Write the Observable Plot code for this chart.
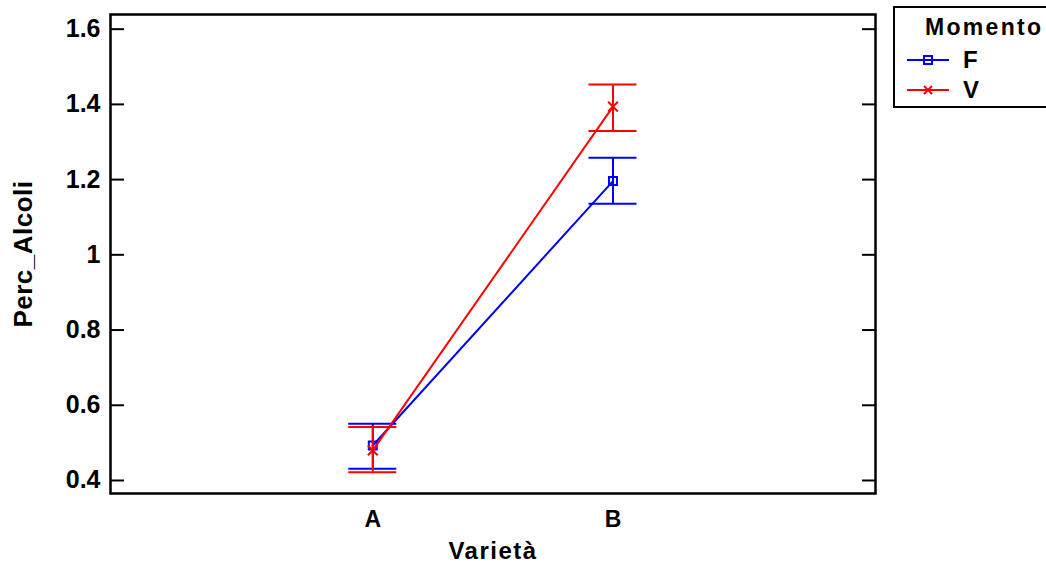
<!DOCTYPE html>
<html>
<head>
<meta charset="utf-8">
<script src="https://cdn.jsdelivr.net/npm/d3@7"></script>
<script src="https://cdn.jsdelivr.net/npm/@observablehq/plot@0.6"></script>
<style>
  html, body { margin: 0; padding: 0; background: #fff; }
  #wrap { position: relative; width: 1046px; height: 566px; overflow: hidden; font-family: "Liberation Sans", Arial, sans-serif; }
  #legend { position: absolute; left: 893px; top: 6px; width: 190px; height: 98px; border: 2px solid #000; background: #fff; }
  #legend .title { position: absolute; left: 30px; top: 6px; font-weight: bold; font-size: 23px; letter-spacing: 2.3px; }
  #legend .row { position: absolute; left: 12px; height: 24px; display: flex; align-items: center; }
  #legend .row span { font-weight: bold; font-size: 24px; margin-left: 14px; }
</style>
</head>
<body>
<div id="wrap"></div>
<script>
// ---- data ----
const varieta = ["A", "B"];
const momento = ["F", "V"];
const colors = ["#0000ff", "#ff0000"];
const meanF = [0.493, 1.196];
const lowF  = [0.431, 1.136];
const highF = [0.551, 1.258];
const meanV = [0.480, 1.394];
const lowV  = [0.422, 1.329];
const highV = [0.542, 1.453];
const yTicks = [0.4, 0.6, 0.8, 1.0, 1.2, 1.4, 1.6];
const yTickLabels = ["0.4", "0.6", "0.8", "1", "1.2", "1.4", "1.6"];
const xTitle = "Varietà";
const yTitle = "Perc_Alcoli";
const legendTitle = "Momento";

const rows = [];
varieta.forEach((v, i) => {
  rows.push({varieta: v, pos: i + 1, momento: "F", mean: meanF[i], low: lowF[i], high: highF[i]});
});
varieta.forEach((v, i) => {
  rows.push({varieta: v, pos: i + 1, momento: "V", mean: meanV[i], low: lowV[i], high: highV[i]});
});
const capHalf = 0.1;
const font = "Liberation Sans, Arial, sans-serif";

const chart = Plot.plot({
  width: 1046,
  height: 566,
  marginLeft: 110,
  marginRight: 171,
  marginTop: 14,
  marginBottom: 73,
  style: {fontFamily: font, fontWeight: "bold", color: "#000", background: "#fff"},
  x: {domain: [-0.092, 3.093]},
  y: {domain: [0.3654, 1.639]},
  color: {domain: momento, range: colors},
  marks: [
    Plot.axisY(yTicks, {anchor: "left", tickSize: 0, tickPadding: 10, fontSize: 25, tickFormat: d => yTickLabels[yTicks.indexOf(d)], label: null}),
    Plot.axisY(yTicks, {anchor: "left", tickSize: -14, tickPadding: 0, tickFormat: () => "", strokeWidth: 2, label: null}),
    Plot.axisY(yTicks, {anchor: "right", tickSize: -14, tickPadding: 0, tickFormat: () => "", strokeWidth: 2, label: null}),
    Plot.axisX([1, 2], {anchor: "bottom", tickSize: 0, tickPadding: 17, fontSize: 23, tickFormat: d => varieta[d - 1], label: null}),
    Plot.text([yTitle], {frameAnchor: "left", dx: -87, rotate: -90, fontSize: 26, fontWeight: "bold", textAnchor: "middle", lineAnchor: "middle"}),
    Plot.text([xTitle], {frameAnchor: "bottom", dx: 0, dy: 58, fontSize: 24, fontWeight: "bold", textAnchor: "middle", lineAnchor: "middle"}),
    Plot.frame({stroke: "#000", strokeWidth: 2.5}),
    ...momento.map(m => {
      const d = rows.filter(r => r.momento === m);
      return [
        Plot.line(d, {x: "pos", y: "mean", stroke: "momento", strokeWidth: 2}),
        Plot.ruleX(d, {x: "pos", y1: "low", y2: "high", stroke: "momento", strokeWidth: 2}),
        Plot.ruleY(d, {y: "high", x1: r => r.pos - capHalf, x2: r => r.pos + capHalf, stroke: "momento", strokeWidth: 2}),
        Plot.ruleY(d, {y: "low", x1: r => r.pos - capHalf, x2: r => r.pos + capHalf, stroke: "momento", strokeWidth: 2}),
        Plot.dot(d, {x: "pos", y: "mean", stroke: "momento", symbol: m === "F" ? "square" : "times", r: 4.5, strokeWidth: 2, fill: m === "F" ? "none" : null})
      ];
    })
  ]
});
const wrap = document.getElementById("wrap");
wrap.appendChild(chart);

// letter spacing for titles
d3.select(chart).selectAll("text").each(function() {
  const t = this.textContent;
  if (t === xTitle) this.setAttribute("letter-spacing", "1.5px");
  if (t === yTitle) this.setAttribute("letter-spacing", "0.5px");
});

// ---- legend ----
const legend = document.createElement("div");
legend.id = "legend";
legend.innerHTML = `<div class="title">${legendTitle}</div>`;
momento.forEach((m, i) => {
  const row = document.createElement("div");
  row.className = "row";
  row.style.top = (40 + i * 30) + "px";
  const sym = m === "F"
    ? `<rect x="17" y="8" width="8" height="8" fill="none" stroke="${colors[i]}" stroke-width="2"/>`
    : `<path d="M17,8L25,16M25,8L17,16" stroke="${colors[i]}" stroke-width="2"/>`;
  row.innerHTML = `<svg width="42" height="24"><line x1="0" x2="42" y1="12" y2="12" stroke="${colors[i]}" stroke-width="2"/>${sym}</svg><span>${m}</span>`;
  legend.appendChild(row);
});
wrap.appendChild(legend);
</script>
</body>
</html>
